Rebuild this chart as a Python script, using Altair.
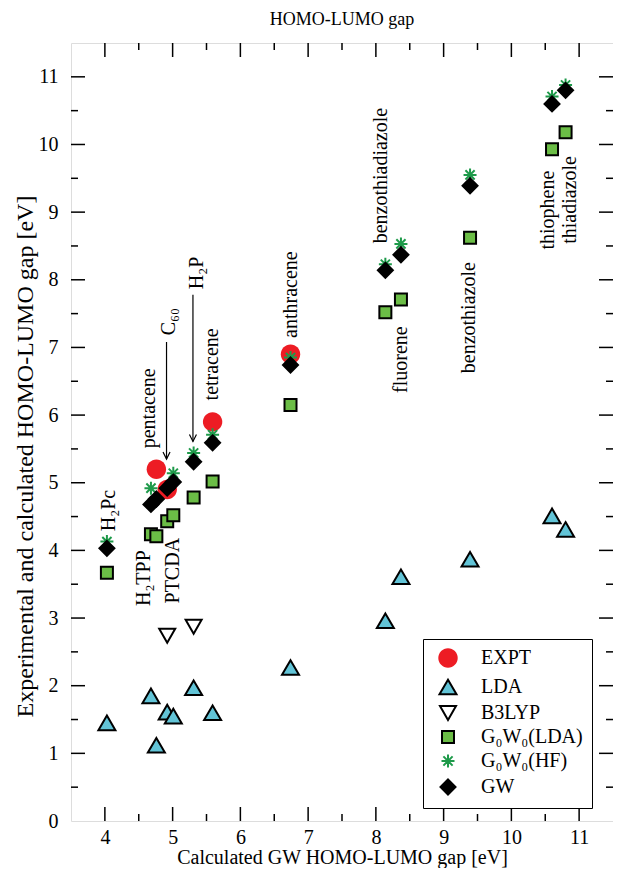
import altair as alt
import pandas as pd

# ---------------- data ----------------
molecules = ["H2Pc", "H2TPP", "pentacene", "C60", "PTCDA", "H2P", "tetracene",
             "anthracene", "benzothiadiazole", "fluorene", "benzothiazole",
             "thiophene", "thiadiazole"]
gw_gap = [4.03, 4.68, 4.76, 4.92, 5.01, 5.31, 5.59, 6.74, 8.14, 8.37, 9.39, 10.60, 10.80]
expt = [None, None, 5.20, 4.90, None, None, 5.90, 6.90, None, None, None, None, None]
lda = [1.45, 1.85, 1.12, 1.61, 1.55, 1.97, 1.60, 2.27, 2.96, 3.61, 3.87, 4.51, 4.31]
b3lyp = [None, None, None, 2.74, None, 2.87, None, None, None, None, None, None, None]
g0w0_lda = [3.67, 4.24, 4.21, 4.43, 4.52, 4.78, 5.02, 6.15, 7.52, 7.71, 8.62, 9.93, 10.18]
g0w0_hf = [4.13, 4.92, None, None, 5.14, 5.44, 5.71, 6.85, 8.23, 8.53, 9.55, 10.71, 10.88]
gw = [4.03, 4.68, 4.76, 4.92, 5.01, 5.31, 5.59, 6.74, 8.14, 8.37, 9.39, 10.60, 10.80]

series_names = ["EXPT", "LDA", "B3LYP", "G₀W₀(LDA)", "G₀W₀(HF)", "GW"]
series_values = [expt, lda, b3lyp, g0w0_lda, g0w0_hf, gw]

label_text = ["H₂Pc", "H₂TPP", "PTCDA", "pentacene", "C₆₀", "H₂P", "tetracene",
              "anthracene", "benzothiadiazole", "fluorene", "benzothiazole",
              "thiophene", "thiadiazole"]
label_x = [4.06, 4.58, 5.01, 4.65, 4.94, 5.36, 5.58, 6.74, 8.07, 8.37, 9.37, 10.54, 10.87]
label_y = [4.59, 3.59, 3.70, 6.10, 7.38, 8.10, 6.75, 7.78, 9.54, 6.82, 7.44, 9.03, 9.18]

arrow_x = [4.91, 5.30]
arrow_y_start = [7.08, 7.78]
arrow_y_end = [5.35, 5.61]

x_major = [4, 5, 6, 7, 8, 9, 10, 11]
x_minor = [4.5, 5.5, 6.5, 7.5, 8.5, 9.5, 10.5]
y_major = [1, 2, 3, 4, 5, 6, 7, 8, 9, 10, 11]
y_minor = [0.5, 1.5, 2.5, 3.5, 4.5, 5.5, 6.5, 7.5, 8.5, 9.5, 10.5]
y_labels = [0, 1, 2, 3, 4, 5, 6, 7, 8, 9, 10, 11]

# ---------------- tables ----------------
rows = []
for name, vals in zip(series_names, series_values):
    for mol, xg, v in zip(molecules, gw_gap, vals):
        if v is not None:
            rows.append({"series": name, "molecule": mol, "gw": xg, "gap": v})
df = pd.DataFrame(rows)
labels_df = pd.DataFrame({"text": label_text, "x": label_x, "y": label_y})
arrows_df = pd.DataFrame({"x": arrow_x, "y": arrow_y_start, "y2": arrow_y_end})
xmaj_df = pd.DataFrame({"v": x_major})
xmin_df = pd.DataFrame({"v": x_minor})
ymaj_df = pd.DataFrame({"v": y_major})
ymin_df = pd.DataFrame({"v": y_minor})

# ---------------- styling ----------------
FONT = "Liberation Serif"
W, H = 542, 778
xs = alt.Scale(domain=[3.5, 11.5], nice=False, zero=False)
ys = alt.Scale(domain=[0, 11.5], nice=False, zero=False)

x_axis = alt.Axis(
    values=x_major, ticks=False, tickSize=0, domain=False, grid=False,
    labelFont=FONT, labelFontSize=20, labelColor="black", labelPadding=6,
    title="Calculated GW HOMO-LUMO gap  [eV]", titleFont=FONT, titleFontSize=20,
    titleFontWeight="normal", titleColor="black", titleY=26, titleBaseline="top")
y_axis = alt.Axis(
    values=y_labels, ticks=False, tickSize=0, domain=False, grid=False,
    labelFont=FONT, labelFontSize=20, labelColor="black", labelPadding=13,
    title="Experimental and calculated HOMO-LUMO gap [eV]", titleFont=FONT,
    titleFontSize=24, titleFontWeight="normal", titleColor="black",
    titleX=-46, titleY=413, titleBaseline="middle")

# symbol paths in pixel units (mark size 4 -> scale factor 1)
shapes = [
    "M-9.7,0A9.7,9.7 0 1,0 9.7,0A9.7,9.7 0 1,0 -9.7,0Z",
    "M0,-7.3L8.5,7.3L-8.5,7.3Z",
    "M0,7L8,-7L-8,-7Z",
    "M-6,-6L6,-6L6,6L-6,6Z",
    "M-6.5,0L6.5,0M0,-6.5L0,6.5M-4.6,-4.6L4.6,4.6M-4.6,4.6L4.6,-4.6",
    "M0,-7.5L7.5,0L0,7.5L-7.5,0Z",
]
fills = ["#ED1C24", "#62C4D7", "white", "#6BBD46", "transparent", "black"]
strokes = ["transparent", "black", "black", "black", "#1E9A4A", "black"]

legend = alt.Legend(
    title=None, orient="none", legendX=352, legendY=596,
    fillColor="white", strokeColor="black", padding=9,
    symbolSize=4, symbolStrokeWidth=2, symbolOffset=6,
    labelFont=FONT, labelFontSize=20, labelColor="black", labelOffset=23,
    rowPadding=3,
)

points = alt.Chart(df).mark_point(
    size=4, strokeWidth=2, opacity=1, fillOpacity=1, strokeOpacity=1
).encode(
    x=alt.X("gw:Q", scale=xs, axis=x_axis),
    y=alt.Y("gap:Q", scale=ys, axis=y_axis),
    shape=alt.Shape("series:N", scale=alt.Scale(domain=series_names, range=shapes), legend=legend),
    fill=alt.Fill("series:N", scale=alt.Scale(domain=series_names, range=fills), legend=legend),
    stroke=alt.Stroke("series:N", scale=alt.Scale(domain=series_names, range=strokes), legend=legend),
)

texts = alt.Chart(labels_df).mark_text(
    angle=270, font=FONT, fontSize=20, align="center", baseline="middle", color="black"
).encode(
    x=alt.X("x:Q", scale=xs, axis=x_axis),
    y=alt.Y("y:Q", scale=ys, axis=y_axis),
    text="text:N",
)

arrow_lines = alt.Chart(arrows_df).mark_rule(color="black", strokeWidth=1.2).encode(
    x=alt.X("x:Q", scale=xs, axis=x_axis),
    y=alt.Y("y:Q", scale=ys, axis=y_axis),
    y2="y2:Q",
)
arrow_heads = alt.Chart(arrows_df).mark_point(
    shape="M-3.5,-7L0,0L3.5,-7", size=4, stroke="black", strokeWidth=1.2,
    fill="transparent", opacity=1
).encode(
    x=alt.X("x:Q", scale=xs, axis=x_axis),
    y=alt.Y("y2:Q", scale=ys, axis=y_axis),
)


def xticks(src, length, at):
    return alt.Chart(src).mark_tick(
        orient="vertical", size=length * 2, thickness=1.5, color="black", clip=True, opacity=1
    ).encode(
        x=alt.X("v:Q", scale=xs, axis=x_axis),
        y=alt.YDatum(at, scale=ys, axis=y_axis),
    )


def yticks(src, length, at):
    return alt.Chart(src).mark_tick(
        orient="horizontal", size=length * 2, thickness=1.5, color="black", clip=True, opacity=1
    ).encode(
        y=alt.Y("v:Q", scale=ys, axis=y_axis),
        x=alt.XDatum(at, scale=xs, axis=x_axis),
    )


tick_layers = [
    xticks(xmaj_df, 14, 0), xticks(xmin_df, 7, 0),
    xticks(xmaj_df, 14, 11.5), xticks(xmin_df, 7, 11.5),
    yticks(ymaj_df, 14, 3.5), yticks(ymin_df, 7, 3.5),
    yticks(ymaj_df, 14, 11.5), yticks(ymin_df, 7, 11.5),
]

chart = alt.layer(
    *tick_layers, arrow_lines, arrow_heads, texts, points
).properties(
    width=W, height=H,
    title=alt.TitleParams("HOMO-LUMO gap", font=FONT, fontSize=18, fontWeight="normal",
                          color="black", anchor="middle", offset=14),
    autosize=alt.AutoSizeParams(type="none"),
    padding={"left": 63, "top": 35, "right": 0, "bottom": 47},
).configure_view(
    stroke="black", strokeWidth=2
).configure_legend(
    strokeWidth=1.5
).configure(background="white")

chart.save("out.html", embed_options={"renderer": "svg", "actions": False})
